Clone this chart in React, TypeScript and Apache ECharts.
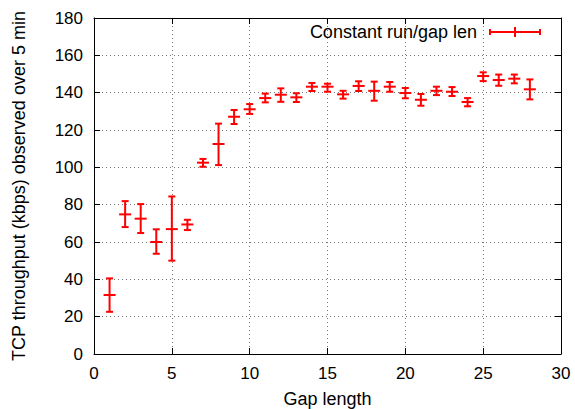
import React, { useEffect, useRef } from "react";
import * as echarts from "echarts";

const gapLength = [1, 2, 3, 4, 5, 6, 7, 8, 9, 10, 11, 12, 13, 14, 15, 16, 17, 18, 19, 20, 21, 22, 23, 24, 25, 26, 27, 28];
const meanKbps = [31.6, 74.8, 72.5, 60.0, 66.9, 69.4, 102.5, 112.5, 127.1, 131.1, 137.1, 138.9, 137.5, 143.2, 143.2, 139.1, 143.6, 141.0, 143.2, 139.8, 136.2, 141.0, 140.5, 135.0, 148.9, 146.8, 147.5, 141.8];
const lowKbps = [22.6, 68.0, 64.8, 53.7, 50.0, 66.4, 100.3, 101.2, 123.2, 128.6, 134.8, 135.1, 135.0, 140.9, 140.5, 136.8, 140.9, 135.7, 140.5, 137.0, 133.0, 138.7, 138.2, 132.7, 146.2, 143.7, 145.0, 136.4];
const highKbps = [40.5, 81.9, 80.3, 66.8, 84.4, 71.9, 104.5, 123.4, 130.7, 133.9, 139.5, 142.3, 139.7, 145.2, 144.8, 141.0, 146.1, 145.9, 145.7, 142.5, 139.3, 143.2, 143.0, 137.1, 150.9, 149.7, 149.7, 147.1];
const xTicks = { min: 0, max: 30, interval: 5 };
const yTicks = { min: 0, max: 180, interval: 20 };

const FONT = "'Liberation Sans', Arial, Helvetica, sans-serif";
const RED = "#ff0000";

export default function App() {
  const ref = useRef<HTMLDivElement>(null);
  useEffect(() => {
    if (!ref.current) return;
    const chart = echarts.init(ref.current, null, { renderer: "svg" });
    const data = gapLength.map((x, i) => [x, meanKbps[i], lowKbps[i], highKbps[i]]);
    const nameStyle = { fontFamily: FONT, fontSize: 18, color: "#000" };
    const tickStyle = { fontFamily: FONT, fontSize: 17, color: "#000" };
    const gridLine = { show: true, lineStyle: { color: "#777", type: [1, 3] as any, width: 1 } };
    const tick = { show: true, inside: true, length: 6, lineStyle: { color: "#000", width: 1 } };
    chart.setOption({
      animation: false,
      backgroundColor: "#fff",
      grid: { left: 94, right: 14, top: 18, bottom: 55, containLabel: false, outerBoundsMode: "none" },
      xAxis: [
        {
          type: "value",
          ...xTicks,
          name: "Gap length",
          nameLocation: "middle",
          nameGap: 36,
          nameTextStyle: nameStyle,
          axisLine: { show: true, onZero: false, lineStyle: { color: "#000", width: 1 } },
          axisTick: tick,
          axisLabel: { ...tickStyle, margin: 11 },
          splitLine: gridLine,
        },
        {
          type: "value",
          ...xTicks,
          position: "top",
          axisLine: { show: true, onZero: false, lineStyle: { color: "#000", width: 1 } },
          axisTick: tick,
          axisLabel: { show: false },
          splitLine: { show: false },
        },
      ],
      yAxis: [
        {
          type: "value",
          ...yTicks,
          name: "TCP throughput (kbps) observed over 5 min",
          nameLocation: "middle",
          nameGap: 66,
          nameTextStyle: nameStyle,
          axisLine: { show: true, onZero: false, lineStyle: { color: "#000", width: 1 } },
          axisTick: tick,
          axisLabel: { ...tickStyle, margin: 11 },
          splitLine: gridLine,
        },
        {
          type: "value",
          ...yTicks,
          position: "right",
          axisLine: { show: true, onZero: false, lineStyle: { color: "#000", width: 1 } },
          axisTick: tick,
          axisLabel: { show: false },
          splitLine: { show: false },
        },
      ],
      graphic: [
        {
          type: "rect",
          shape: { x: 305, y: 24, width: 254, height: 18 },
          style: { fill: "#fff" },
        },
        {
          type: "text",
          x: 477,
          y: 32,
          style: { text: "Constant run/gap len", font: `18px ${FONT}`, fill: "#000", textAlign: "right", textVerticalAlign: "middle" },
        },
        { type: "line", shape: { x1: 490, y1: 32, x2: 540, y2: 32 }, style: { stroke: RED, lineWidth: 2 } },
        { type: "line", shape: { x1: 490, y1: 29, x2: 490, y2: 35 }, style: { stroke: RED, lineWidth: 2 } },
        { type: "line", shape: { x1: 540, y1: 29, x2: 540, y2: 35 }, style: { stroke: RED, lineWidth: 2 } },
        { type: "line", shape: { x1: 515, y1: 27, x2: 515, y2: 37 }, style: { stroke: RED, lineWidth: 2 } },
      ],
      series: [
        {
          type: "custom",
          name: "Constant run/gap len",
          data,
          encode: { x: 0, y: [1, 2, 3] },
          z: 10,
          renderItem: (params: any, api: any) => {
            const x = api.value(0);
            const c = api.coord([x, api.value(1)]);
            const lo = api.coord([x, api.value(2)]);
            const hi = api.coord([x, api.value(3)]);
            const style = { stroke: RED, lineWidth: 2, fill: "none" };
            const capHw = 3.5;
            const midHw = 6;
            return {
              type: "group",
              children: [
                { type: "line", shape: { x1: hi[0], y1: hi[1], x2: lo[0], y2: lo[1] }, style },
                { type: "line", shape: { x1: hi[0] - capHw, y1: hi[1], x2: hi[0] + capHw, y2: hi[1] }, style },
                { type: "line", shape: { x1: lo[0] - capHw, y1: lo[1], x2: lo[0] + capHw, y2: lo[1] }, style },
                { type: "line", shape: { x1: c[0] - midHw, y1: c[1], x2: c[0] + midHw, y2: c[1] }, style },
              ],
            };
          },
        },
      ],
    });
    return () => chart.dispose();
  }, []);
  return <div ref={ref} style={{ position: "fixed", left: 0, top: 0, width: 575, height: 409 }} />;
}
